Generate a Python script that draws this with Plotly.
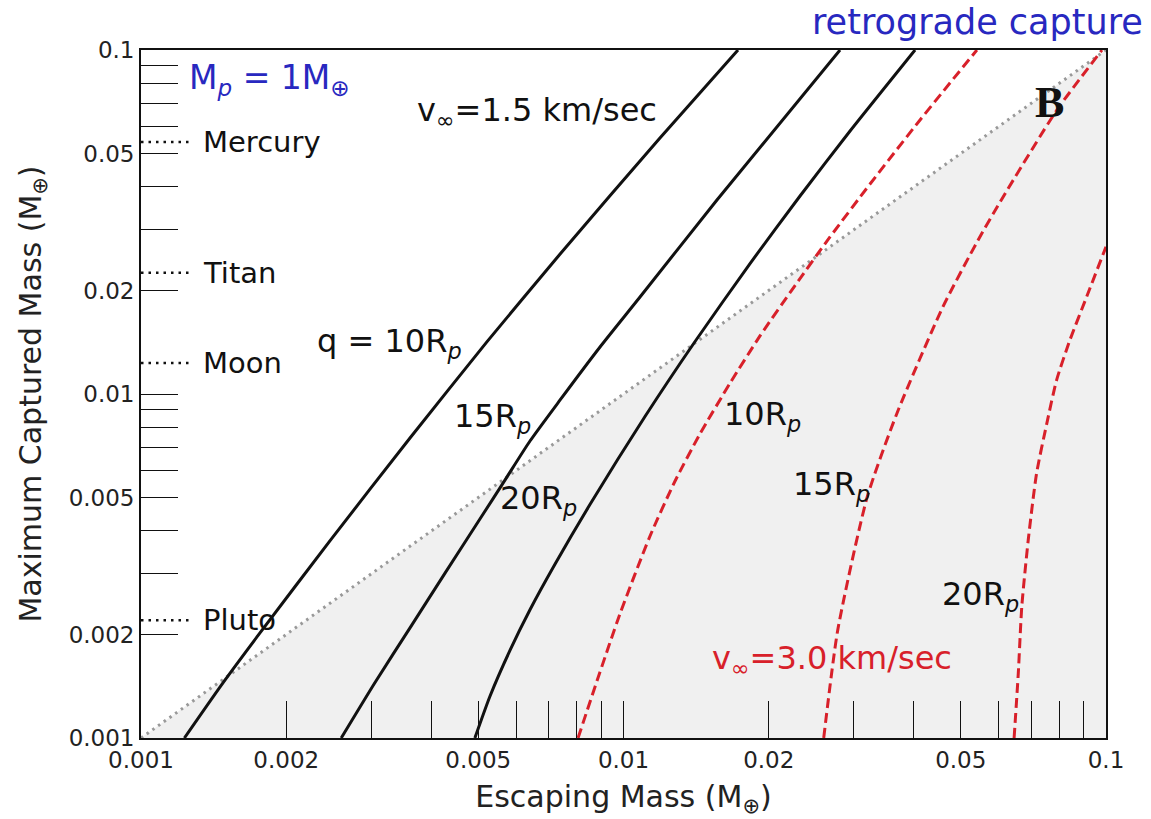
import numpy as np
import plotly.graph_objects as go

# ---------------- data ----------------
# v_inf = 1.5 km/s (black solid)
esc_15_q10 = [0.00123, 0.00147, 0.00175, 0.00247, 0.00361, 0.00521, 0.00739, 0.0119, 0.01727]
cap_15_q10 = [0.001, 0.00143, 0.00199, 0.00376, 0.00745, 0.01417, 0.02553, 0.0555, 0.1]
esc_15_q15 = [0.0026, 0.003055, 0.00361, 0.00427, 0.00504, 0.00568, 0.0064, 0.00739, 0.00894, 0.01082, 0.01562, 0.0281]
cap_15_q15 = [0.001, 0.00145, 0.00209, 0.00302, 0.00433, 0.00562, 0.0073, 0.00961, 0.0137, 0.01914, 0.03664, 0.1]
esc_15_q20 = [0.00492, 0.00529, 0.00582, 0.0064, 0.00721, 0.00852, 0.01108, 0.01407, 0.01829, 0.02322, 0.02948, 0.0402]
cap_15_q20 = [0.001, 0.001325, 0.0018, 0.00236, 0.0032, 0.00477, 0.0086, 0.01421, 0.02395, 0.03763, 0.05815, 0.1]
# v_inf = 3.0 km/s (red dashed)
esc_30_q10 = [0.00805, 0.00881, 0.00983, 0.01135, 0.01279, 0.0144, 0.01663, 0.01918, 0.02267, 0.02679, 0.03243, 0.04117, 0.054]
cap_30_q10 = [0.001, 0.001464, 0.002293, 0.003866, 0.005586, 0.00765, 0.01076, 0.01475, 0.02067, 0.02861, 0.04078, 0.0626, 0.1]
esc_30_q15 = [0.0260, 0.0278, 0.0320, 0.0369, 0.0459, 0.0543, 0.0612, 0.0791, 0.0981]
cap_30_q15 = [0.001, 0.00206, 0.00502, 0.00881, 0.0179, 0.0280, 0.0374, 0.0669, 0.1]
esc_30_q20 = [0.0645, 0.0658, 0.0669, 0.0690, 0.0718, 0.0754, 0.0790, 0.0842, 0.0912, 0.1]
cap_30_q20 = [0.001, 0.001542, 0.002408, 0.003763, 0.005882, 0.008218, 0.01098, 0.01436, 0.01918, 0.0268]

# equal-mass diagonal
diag = [0.001, 0.1]

# reference bodies
bodies = ["Mercury", "Titan", "Moon", "Pluto"]
body_mass = [0.054, 0.0225, 0.0123, 0.0022]
body_line_x = [0.001, 0.00128]

# ticks
label_vals = [0.001, 0.002, 0.005, 0.01, 0.02, 0.05, 0.1]
label_text = ["0.001", "0.002", "0.005", "0.01", "0.02", "0.05", "0.1"]
minor_vals = [0.003, 0.004, 0.006, 0.007, 0.008, 0.009,
              0.03, 0.04, 0.06, 0.07, 0.08, 0.09]

FONT = "DejaVu Sans"
BLACK = "#111111"
RED = "#d8202a"
BLUE = "#2828c0"

fig = go.Figure()

# shaded region below the diagonal
fig.add_trace(go.Scatter(x=[diag[0], diag[1], diag[1], diag[0]],
                         y=[diag[0], diag[1], diag[0], diag[0]],
                         fill="toself", fillcolor="#f0f0f0", mode="lines",
                         line=dict(width=0), hoverinfo="skip", showlegend=False))
# diagonal dotted line
fig.add_trace(go.Scatter(x=diag, y=diag, mode="lines",
                         line=dict(color="#999999", width=3, dash="2.5px,4.5px"),
                         showlegend=False))

for ex, cy in [(esc_15_q10, cap_15_q10), (esc_15_q15, cap_15_q15), (esc_15_q20, cap_15_q20)]:
    fig.add_trace(go.Scatter(x=ex, y=cy, mode="lines",
                             line=dict(color=BLACK, width=3, shape="spline", smoothing=0.6),
                             showlegend=False))
for ex, cy in [(esc_30_q10, cap_30_q10), (esc_30_q15, cap_30_q15), (esc_30_q20, cap_30_q20)]:
    fig.add_trace(go.Scatter(x=ex, y=cy, mode="lines",
                             line=dict(color=RED, width=3, dash="10px,5px", shape="spline", smoothing=0.6),
                             showlegend=False))

for m in body_mass:
    fig.add_trace(go.Scatter(x=body_line_x, y=[m, m], mode="lines",
                             line=dict(color=BLACK, width=2.5, dash="2.5px,5px"),
                             showlegend=False, cliponaxis=False))

ann = []
def add(text, x, y, size=32, color=BLACK, xanchor="left", yanchor="middle", family=FONT, xref="x", yref="y"):
    ann.append(dict(text=text, x=x, y=y, xref=xref, yref=yref, showarrow=False,
                    xanchor=xanchor, yanchor=yanchor, font=dict(family=family, size=size, color=color)))

for name, m in zip(bodies, body_mass):
    add(name, -2.8756, np.log10(m), size=29)

add("M<sub><i>p</i></sub> = 1M<sub>⊕</sub>", -2.904, -1.087, size=33, color=BLUE)
add("v<sub>∞</sub>=1.5 km/sec", -2.432, -1.1802)
add("q = 10R<sub><i>p</i></sub>", -2.6394, -1.8517)
add("15R<sub><i>p</i></sub>", -2.3554, -2.0698)
add("20R<sub><i>p</i></sub>", -2.2601, -2.3081)
add("10R<sub><i>p</i></sub>", -1.7958, -2.064)
add("15R<sub><i>p</i></sub>", -1.6528, -2.2674)
add("20R<sub><i>p</i></sub>", -1.344, -2.5872)
add("v<sub>∞</sub>=3.0 km/sec", -1.8207, -2.7733, color=RED)
add("<b>B</b>", -1.1181, -1.154, size=44, xanchor="center", family="Liberation Serif")
add("retrograde capture", 1.0404, 1.0407, size=35, color=BLUE, xanchor="right", xref="paper", yref="paper")

axis_common = dict(type="log", range=[-3, -1], showline=True, linecolor=BLACK, linewidth=1.8,
                   mirror=True, ticks="inside", ticklen=37, tickwidth=1.3, tickcolor=BLACK,
                   tickmode="array", tickvals=label_vals, ticktext=label_text,
                   minor=dict(tickmode="array", tickvals=minor_vals, ticks="inside", ticklen=37,
                              tickwidth=1.3, tickcolor=BLACK, showgrid=False),
                   showgrid=False, zeroline=False,
                   tickfont=dict(family=FONT, size=23, color="#222222"))

fig.update_layout(
    width=1151, height=819, autosize=False,
    margin=dict(l=141, r=45, t=50, b=81),
    plot_bgcolor="white", paper_bgcolor="white",
    xaxis=dict(**axis_common, title=dict(text="Escaping Mass (M<sub>⊕</sub>)",
                                         font=dict(family=FONT, size=30, color="#222222"), standoff=14)),
    yaxis=dict(**axis_common, title=dict(text="Maximum Captured Mass (M<sub>⊕</sub>)",
                                         font=dict(family=FONT, size=30, color="#222222"), standoff=18)),
    annotations=ann,
    showlegend=False,
)

fig.write_html("out.html")
